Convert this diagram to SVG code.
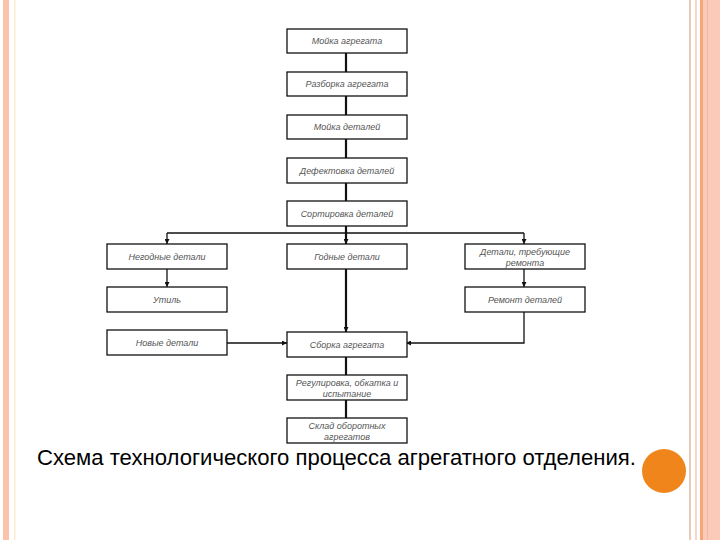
<svg xmlns="http://www.w3.org/2000/svg" width="720" height="540" viewBox="0 0 720 540">
<style>
.box rect{fill:#fff;stroke:#111;stroke-width:1.3}
.box text{font-family:"Liberation Sans",Arial,sans-serif;font-style:italic;font-size:9px;fill:#555;text-anchor:middle}
.ln{fill:none;stroke:#111;stroke-width:1.3}
.thk{fill:none;stroke:#111;stroke-width:2.2}
.cap{font-family:"Liberation Sans",Arial,sans-serif;font-size:21.5px;fill:#000}
</style>
<defs>
<marker id="ah" viewBox="0 0 6 6" refX="6" refY="3" markerWidth="5" markerHeight="5" markerUnits="userSpaceOnUse" orient="auto">
<path d="M0,0 L6,3 L0,6 z" fill="#111"/>
</marker>
</defs>
<rect width="720" height="540" fill="#fff"/>
<g id="border">
<rect x="3" y="0" width="6" height="540" fill="#fbc3a9"/>
<rect x="14" y="0" width="1.5" height="540" fill="#fde9d2"/>
<rect x="689" y="0" width="2" height="540" fill="#e9c9b9"/>
<rect x="695" y="0" width="2" height="540" fill="#f6d6cb"/>
<rect x="700" y="0" width="3" height="540" fill="#f7a677"/>
<rect x="703" y="0" width="17" height="540" fill="#fbcab8"/>
<rect x="707" y="0" width="1" height="540" fill="#f4b9a4"/>
</g>
<g id="connectors">
<path class="thk" d="M346,53 V72"/>
<path class="thk" d="M346,96 V115"/>
<path class="thk" d="M346,139 V158"/>
<path class="thk" d="M346,183 V201"/>
<path class="thk" d="M346,226 V244" marker-end="url(#ah)"/>
<path class="ln" d="M167,233 H524"/>
<path class="ln" d="M167,233 V244" marker-end="url(#ah)"/>
<path class="ln" d="M524,233 V244" marker-end="url(#ah)"/>
<path class="ln" d="M167,269 V287" marker-end="url(#ah)"/>
<path class="ln" d="M524,269 V287" marker-end="url(#ah)"/>
<path class="thk" d="M346,269 V332" marker-end="url(#ah)"/>
<path class="ln" d="M227,343 H287" marker-end="url(#ah)"/>
<path class="ln" d="M524,312 V343 H406" marker-end="url(#ah)"/>
<path class="thk" d="M346,357 V375"/>
<path class="thk" d="M346,400 V418"/>
</g>
<g id="n1" class="box"><rect x="287" y="29" width="120" height="24"/><text x="347" y="44">Мойка агрегата</text></g>
<g id="n2" class="box"><rect x="287" y="72" width="120" height="24"/><text x="347" y="87">Разборка агрегата</text></g>
<g id="n3" class="box"><rect x="287" y="115" width="120" height="24"/><text x="347" y="130">Мойка деталей</text></g>
<g id="n4" class="box"><rect x="287" y="158" width="120" height="25"/><text x="347" y="174">Дефектовка деталей</text></g>
<g id="n5" class="box"><rect x="287" y="201" width="120" height="25"/><text x="347" y="217">Сортировка деталей</text></g>
<g id="n6" class="box"><rect x="107" y="244" width="120" height="25"/><text x="167" y="260">Негодные детали</text></g>
<g id="n7" class="box"><rect x="287" y="244" width="120" height="25"/><text x="347" y="260">Годные детали</text></g>
<g id="n8" class="box"><rect x="465" y="244" width="120" height="25"/><text x="525" y="255">Детали, требующие</text><text x="525" y="266">ремонта</text></g>
<g id="n9" class="box"><rect x="107" y="287" width="120" height="25"/><text x="167" y="303">Утиль</text></g>
<g id="n10" class="box"><rect x="465" y="287" width="120" height="25"/><text x="525" y="303">Ремонт деталей</text></g>
<g id="n11" class="box"><rect x="107" y="330" width="120" height="25"/><text x="167" y="346">Новые детали</text></g>
<g id="n12" class="box"><rect x="287" y="332" width="120" height="25"/><text x="347" y="348">Сборка агрегата</text></g>
<g id="n13" class="box"><rect x="287" y="375" width="120" height="25"/><text x="347" y="386">Регулировка, обкатка и</text><text x="347" y="397">испытание</text></g>
<g id="n14" class="box"><rect x="287" y="418" width="120" height="25"/><text x="347" y="429">Склад оборотных</text><text x="347" y="440">агрегатов</text></g>
<text class="cap" x="37" y="465" textLength="599" lengthAdjust="spacingAndGlyphs">Схема технологического процесса агрегатного отделения.</text>
<circle cx="664" cy="471" r="22" fill="#f0861b"/>
</svg>
